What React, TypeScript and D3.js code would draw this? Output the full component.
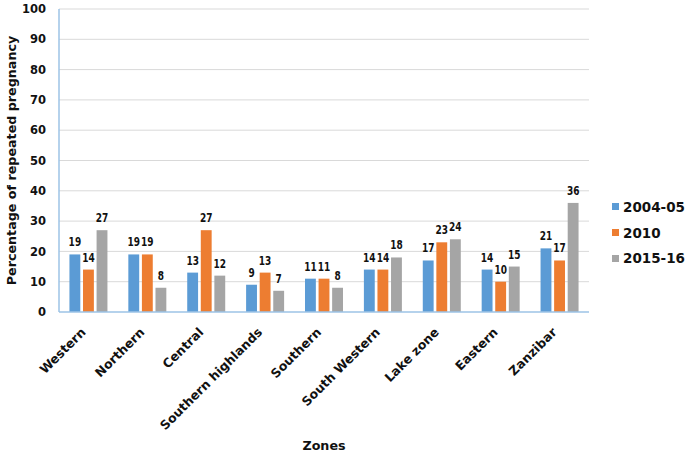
import React from "react";
import * as d3 from "d3";

const categories = ["Western", "Northern", "Central", "Southern highlands", "Southern", "South Western", "Lake zone", "Eastern", "Zanzibar"];
const seriesNames = ["2004-05", "2010", "2015-16"];
const s2004 = [19, 19, 13, 9, 11, 14, 17, 14, 21];
const s2010 = [14, 19, 27, 13, 11, 14, 23, 10, 17];
const s2015 = [27, 8, 12, 7, 8, 18, 24, 15, 36];
const yTicks = [0, 10, 20, 30, 40, 50, 60, 70, 80, 90, 100];
const colors = ["#5B9BD5", "#ED7D31", "#A5A5A5"];

export default function App() {
  const W = 688, H = 455;
  const left = 59, right = 589, top = 9, bottom = 312;
  const font = "'DejaVu Sans', Verdana, sans-serif";
  const x = d3.scaleBand<string>().domain(categories).range([left, right]);
  const y = d3.scaleLinear().domain([0, 100]).range([bottom, top]);
  const inner = d3.scaleBand<string>().domain(seriesNames).range([-19, 19]).paddingInner(0.2);
  const series = [s2004, s2010, s2015];
  return (
    <svg width={W} height={H} style={{ position: "absolute", left: 0, top: 0, background: "#fff" }} fontFamily={font}>
      {yTicks.map((t) => (
        <g key={t}>
          {t > 0 && <line x1={left} x2={right} y1={y(t)} y2={y(t)} stroke="#D9D9D9" strokeWidth={1} />}
          <text x={46} y={y(t)} dy="0.36em" textAnchor="end" fontSize={11.5} fontWeight="bold" fill="#111">{t}</text>
        </g>
      ))}
      {categories.map((c, i) => {
        const cx = (x(c) as number) + x.bandwidth() / 2;
        return (
          <g key={c}>
            {series.map((s, j) => {
              const bx = cx + (inner(seriesNames[j]) as number);
              return (
                <g key={j}>
                  <rect x={bx} y={y(s[i])} width={inner.bandwidth()} height={bottom - y(s[i])} fill={colors[j]} />
                  <text transform={`translate(${bx + inner.bandwidth() / 2},${y(s[i]) - 8}) scale(0.72,1)`} textAnchor="middle" fontSize={12.5} fontWeight="bold" fill="#111">{s[i]}</text>
                </g>
              );
            })}
            <text transform={`translate(${cx - 2},${bottom + 21}) rotate(-45)`} textAnchor="end" fontSize={12.5} fontWeight="bold" fill="#111">{c}</text>
          </g>
        );
      })}
      <line x1={left} x2={left} y1={top} y2={bottom} stroke="#9DC3E6" strokeWidth={1.5} />
      <line x1={left} x2={right} y1={bottom} y2={bottom} stroke="#9DC3E6" strokeWidth={1.5} />
      <text transform={`translate(16,${(top + bottom) / 2}) rotate(-90)`} textAnchor="middle" fontSize={12.7} fontWeight="bold" fill="#111">Percentage of repeated pregnancy</text>
      <text x={324} y={450} textAnchor="middle" fontSize={12.7} fontWeight="bold" fill="#111">Zones</text>
      {seriesNames.map((n, j) => (
        <g key={n}>
          <rect x={612} y={203 + j * 26} width={7} height={7} fill={colors[j]} />
          <text x={623} y={212 + j * 25.5} fontSize={13.5} fontWeight="bold" fill="#111">{n}</text>
        </g>
      ))}
    </svg>
  );
}
